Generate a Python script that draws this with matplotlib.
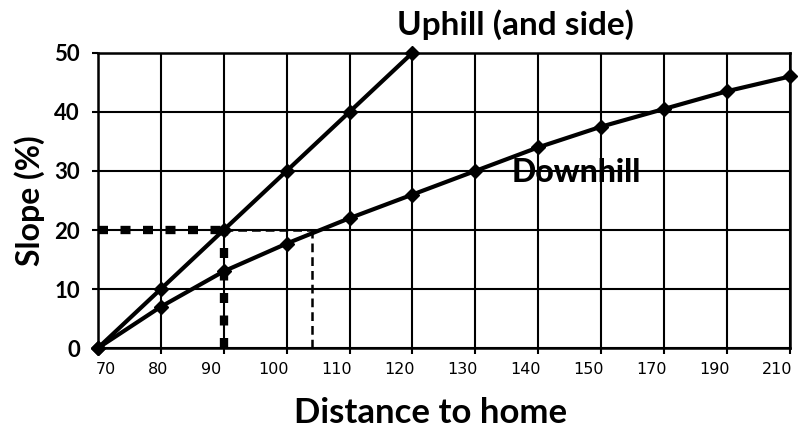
import numpy as np
import matplotlib
matplotlib.use("Agg")
import matplotlib.pyplot as plt
from matplotlib.transforms import ScaledTranslation

categories = [70, 80, 90, 100, 110, 120, 130, 140, 150, 170, 190, 210]
uphill = [0, 10, 20, 30, 40, 50]
downhill = [0, 7, 13, 17.7, 22, 26, 30, 34, 37.5, 40.5, 43.5, 46]
yticks = [0, 10, 20, 30, 40, 50]
slope_ref = 20
uphill_cross = 90
downhill_cross = 104

fig = plt.figure(figsize=(8.02, 4.33), dpi=100)
ax = fig.add_axes([0.122, 0.196, 0.863, 0.682])

pos = np.arange(len(categories))
ax.set_xlim(0, len(categories) - 1)
ax.set_ylim(0, 50)
ax.set_xticks(pos)
ax.set_xticklabels([str(c) for c in categories], fontfamily="DejaVu Sans", fontsize=11.5)
ax.set_yticks(yticks)
ax.set_yticklabels([str(v) for v in yticks], fontfamily="Lato", fontweight="bold", fontsize=16)
ax.grid(True, color="black", linewidth=1.5)
ax.set_axisbelow(True)
for s in ax.spines.values():
    s.set_linewidth(1.8)
ax.tick_params(axis="both", length=4, width=1.5, color="black")
ax.tick_params(axis="x", pad=6)
ax.tick_params(axis="y", pad=9)

# small horizontal shifts of x tick labels (in pixels) as in the scanned original
for i, lab in enumerate(ax.get_xticklabels()):
    shift = 8 if i == 0 else (-3 if i == 1 else -13)
    lab.set_transform(lab.get_transform() + ScaledTranslation(shift / 100, 0, fig.dpi_scale_trans))

ax.plot(pos[:len(uphill)], uphill, color="black", lw=3, marker="D", ms=7.5, clip_on=False, zorder=4)
ax.plot(pos, downhill, color="black", lw=3, marker="D", ms=7.5, clip_on=False, zorder=4)

ux = float(np.interp(uphill_cross, categories, pos))
dx = float(np.interp(downhill_cross, categories, pos))
ax.plot([0, ux], [slope_ref, slope_ref], color="black", lw=6, linestyle=(0, (1.2, 1.5)), zorder=3, clip_on=False)
ax.plot([ux, ux], [0, slope_ref], color="black", lw=6, linestyle=(0, (1.2, 1.5)), zorder=3, clip_on=False)
ax.plot([ux, dx], [slope_ref, slope_ref], color="black", lw=1.8, linestyle=(0, (3.5, 2)), zorder=3)
ax.plot([dx, dx], [0, slope_ref], color="black", lw=1.8, linestyle=(0, (3.5, 2)), zorder=3)

ax.set_xlabel("Distance to home", fontfamily="Lato", fontweight="bold", fontsize=25)
ax.xaxis.set_label_coords(0.48, -0.165)
ax.xaxis.label.set_va("top")
ax.set_ylabel("Slope (%)", fontfamily="Lato", fontweight="bold", fontsize=23)
ax.yaxis.label.set_va("center")
ax.yaxis.set_label_coords(-0.099, 0.5)

ax.text(4.76, 53.0, "Uphill (and side)", fontfamily="Lato", fontweight="bold", fontsize=24,
        ha="left", va="baseline")
ax.text(7.6, 29.7, "Downhill", fontfamily="Lato", fontweight="black", fontsize=23,
        ha="center", va="center", zorder=5)

fig.savefig("out.png", dpi=100)
